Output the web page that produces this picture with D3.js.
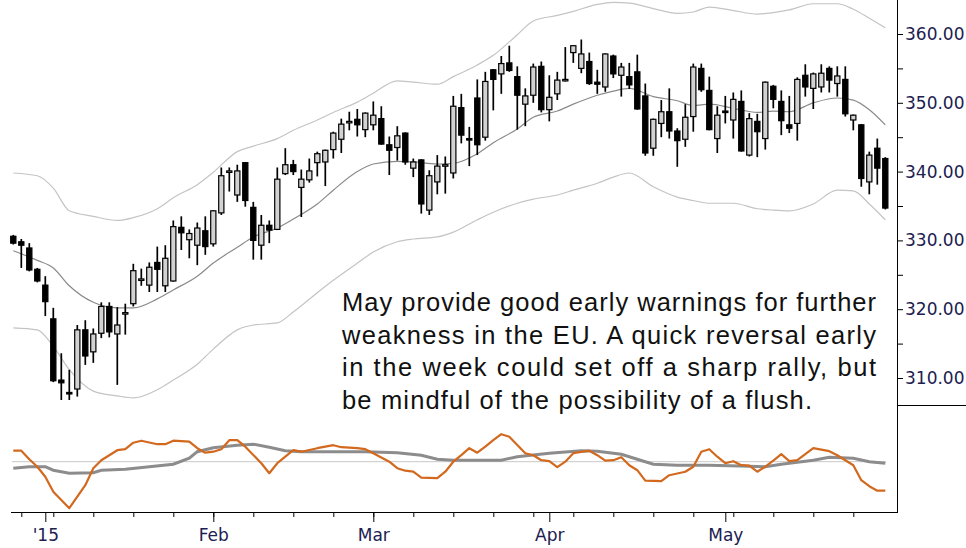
<!DOCTYPE html>
<html>
<head>
<meta charset="utf-8">
<script src="https://cdnjs.cloudflare.com/ajax/libs/d3/7.8.5/d3.min.js"></script>
<style>
  body { margin: 0; background: #fff; }
  svg { display: block; }
  .axis text { font-family: "DejaVu Sans", Verdana, sans-serif; font-size: 17px; fill: #202050; }
  .axis line { stroke: #000; }
  .note { font-family: "Liberation Sans", Arial, sans-serif; font-size: 25.5px; fill: #111; }
</style>
</head>
<body>
<svg id="chart" width="966" height="548"></svg>
<script>
// daily OHLC, one value per trading day (index 0 = last days of Dec '14)
var opens = [330.6,329.8,328.9,325.8,323.5,318.6,309.7,307.9,308.4,317.0,
  313.8,316.5,320.4,316.4,319.3,320.8,324.2,323.5,326.8,323.4,
  324.1,331.9,330.1,329.3,331.4,329.5,334.0,339.9,336.6,341.3,
  334.8,329.3,332.2,331.6,339.7,341.0,337.7,338.8,341.3,341.4,
  343.2,344.7,347.1,347.6,346.1,346.8,347.7,343.9,343.5,345.6,
  340.5,341.7,334.4,338.5,340.9,339.8,349.3,344.8,350.7,345.0,
  354.8,354.2,355.8,353.8,349.8,351.1,355.3,349.0,351.3,353.2,
  357.3,355.0,356.0,353.0,352.3,356.8,354.0,353.8,354.5,351.0,
  343.4,347.0,348.7,345.9,344.7,348.0,355.0,351.8,344.8,348.8,
  347.5,350.2,342.4,347.3,344.8,352.4,350.2,346.8,347.0,354.0,
  352.1,352.3,355.0,352.8,353.4,347.5,346.8,338.5,343.4,341.9];
var highs = [330.8,330.2,329.6,326.0,324.8,320.2,313.6,311.2,317.7,318.4,
  317.2,321.0,321.0,320.3,320.8,326.6,325.9,326.8,329.1,329.3,
  332.9,333.5,331.6,332.6,333.5,334.4,340.6,340.6,341.0,341.4,
  335.6,333.7,332.9,340.6,343.4,341.7,340.3,341.9,342.9,343.2,
  345.8,347.7,348.7,349.1,348.6,350.2,349.5,345.1,346.6,345.7,
  341.9,341.8,340.2,342.4,342.2,351.0,351.3,346.5,353.4,354.5,
  354.9,356.8,358.3,355.3,352.1,355.7,356.0,354.0,354.5,358.1,
  358.4,359.2,357.3,354.8,357.2,357.0,355.8,355.8,357.0,352.8,
  347.7,350.4,352.1,346.3,349.8,355.7,355.7,353.8,349.5,351.0,
  351.5,351.8,348.5,348.4,353.1,352.6,351.8,351.0,353.7,355.6,
  354.4,355.6,355.3,355.3,355.3,348.3,346.9,342.9,344.8,342.1];
var lows = [329.4,326.0,325.5,323.9,319.0,309.4,306.8,306.8,307.3,311.9,
  312.2,315.8,315.9,309.0,316.3,320.4,323.4,322.5,322.5,322.5,
  324.0,328.6,327.4,326.4,327.9,329.1,333.7,337.1,335.6,334.9,
  327.2,327.2,329.6,331.5,339.5,339.5,333.4,338.4,339.3,337.9,
  341.9,342.7,346.0,345.1,345.0,346.0,343.9,339.5,341.6,341.0,
  339.2,333.9,333.7,336.7,336.8,339.0,344.1,340.8,342.4,344.5,
  348.9,351.3,354.5,346.1,346.6,350.0,348.6,347.3,350.4,353.1,
  355.8,354.3,352.6,351.3,351.6,353.6,350.9,352.0,349.0,342.3,
  342.3,345.0,344.8,340.7,343.6,345.8,351.6,346.0,342.7,347.0,
  344.8,342.9,342.2,342.1,343.2,349.2,345.3,345.6,344.5,350.9,
  349.1,351.5,351.5,350.9,348.0,346.0,337.8,336.7,338.1,334.5];
var closes = [329.6,329.3,325.7,324.1,321.1,309.6,309.3,307.7,317.0,313.2,
  316.4,320.4,316.7,317.7,319.5,325.6,324.4,326.1,325.8,327.4,
  332.0,331.1,331.0,331.8,329.1,334.3,339.4,340.1,340.1,335.8,
  330.0,332.2,331.5,338.9,341.0,340.0,338.9,340.1,342.6,343.1,
  345.6,346.9,347.3,346.8,348.5,348.2,344.0,343.1,345.2,341.4,
  341.4,335.3,339.4,340.8,341.0,349.5,345.3,344.6,343.9,353.1,
  353.4,355.7,354.7,351.1,351.0,355.2,349.0,350.8,353.3,353.4,
  358.3,357.1,352.8,352.7,357.1,354.2,355.2,352.6,349.1,342.7,
  347.6,348.7,345.9,344.5,347.9,355.2,351.9,346.1,348.2,348.6,
  350.5,343.0,347.7,345.8,353.0,350.5,347.4,346.3,353.4,352.3,
  354.2,354.3,353.3,353.9,348.4,348.2,339.0,342.4,340.5,334.7];

// moving average and bands, read at these day indices
var bandIdx = [0,3,5,7,10,13,15,18,20,23,25,28,30,33,35,38,40,43,45,48,50,53,55,58,60,
  63,65,68,70,73,75,77,80,83,85,87,90,93,95,97,100,103,105,107,109];
var upperBand = [339.8,339.4,337.6,334.3,333.5,332.9,333.3,334.6,336.2,338.1,339.9,342.9,343.7,
  344.8,346.0,347.5,348.6,350.1,351.4,353.2,353.0,352.7,353.8,355.5,356.9,359.9,361.9,362.7,
  363.3,364.3,364.6,364.5,363.7,363.0,363.2,363.9,363.4,362.9,363.1,363.5,364.4,364.4,363.6,
  362.3,360.9];
var midBand = [328.5,327.1,326.0,323.4,321.0,320.2,320.2,321.5,322.8,324.8,326.7,329.0,330.5,
  331.8,333.1,335.3,337.3,340.0,341.1,341.5,341.4,341.1,341.2,342.6,344.2,346.2,347.9,348.8,
  349.8,351.1,351.7,352.1,350.9,350.3,349.6,349.8,349.2,348.6,348.8,348.7,350.0,350.7,350.4,
  349.0,346.8];
var lowerBand = [317.3,317.0,314.6,311.2,308.1,307.4,307.1,308.3,309.7,312.0,314.2,317.0,317.7,
  318.0,319.6,322.4,324.2,326.7,328.3,329.8,330.2,330.5,331.2,333.0,334.1,335.4,336.0,336.6,
  337.3,338.3,339.2,339.8,337.8,336.3,335.8,335.4,335.4,334.6,334.4,334.3,335.3,337.3,337.2,
  335.3,333.0];

// lower panel oscillator (orange) and its signal (gray)
var oscIdx = [0,1,2,3,4,5,7,8,9,10,11,13,14,15,16,18,19,20,22,23,24,25,26,27,28,29,31,32,33,
  35,36,38,40,41,43,44,45,47,48,49,50,51,53,54,55,56,57,58,59,60,61,62,64,65,66,67,68,69,70,
  72,73,74,75,76,77,78,79,81,82,84,85,86,87,88,89,90,91,92,93,94,95,96,97,98,100,102,103,104,
  105,106,107,108,109];
var oscVals = [2.2,2.2,0.5,-1.0,-3.0,-6.0,-9.3,-7.0,-4.7,-1.3,0.3,2.3,2.5,3.8,4.2,3.5,3.5,4.2,
  4.0,2.7,1.8,2.0,2.5,4.3,4.3,3.0,-0.3,-2.3,-0.3,2.3,2.0,2.7,3.3,2.9,2.7,2.5,1.7,0,-1.3,-1.8,
  -2.0,-3.2,-3.3,-2.0,0,1.3,2.7,1.8,3.0,4.3,5.5,5.0,1.7,1.3,0.3,0.1,-1.1,0,1.7,2.2,1.3,0.2,
  0.3,0.9,-0.7,-1.7,-3.8,-3.9,-2.7,-2.0,-1.0,2.0,2.5,1.0,-0.3,0.1,-0.7,-0.8,-2.0,-1.0,0.2,
  1.5,0.1,0.3,2.7,2.1,1.3,0.3,-0.7,-3.7,-4.9,-5.8,-5.8];
var sigIdx = [0,2,4,5,7,10,11,14,17,20,22,23,25,28,30,32,34,36,40,44,48,51,53,55,61,63,67,71,
  73,76,78,80,83,87,92,94,96,100,102,105,107,109];
var sigVals = [-1.3,-1.0,-1.0,-1.7,-2.3,-2.2,-1.7,-1.5,-1.0,-0.5,0.7,2.0,2.8,3.3,3.5,2.9,2.2,
  2.0,2.0,2.0,1.8,1.3,0.5,0.3,0.3,1.0,1.7,2.2,2.1,1.5,0.5,-0.5,-0.7,-0.7,-0.9,-1.0,-0.5,0.3,
  0.9,0.7,0,-0.3];

var weekTicks = [1,5,10,15,20,25,30,35,40,45,50,55,60,65,70,75,80,85,90,95,100,105];
var monthTicks = [4,25,45,67,89];
var monthLabels = ["'15","Feb","Mar","Apr","May"];
var priceTicks = [310,315,320,325,330,335,340,345,350,355,360];

var noteLines = [
  "May provide good early warnings for further",
  "weakness in the EU. A quick reversal early",
  "in the week could set off a sharp rally, but",
  "be mindful of the possibility of a flush."
];

var svg = d3.select("#chart");

var x = d3.scaleLinear().domain([0, 109]).range([13.3, 885.3]);
var y = d3.scaleLinear().domain([310, 360]).range([378, 34]);
var yOsc = d3.scaleLinear().domain([-10, 6]).range([511.7, 431.7]);

function pairs(idx, vals) {
  return idx.map(function(d, i) { return [d, vals[i]]; });
}

var priceLine = d3.line()
  .x(function(d) { return x(d[0]) })
  .y(function(d) { return y(d[1]) })
  .curve(d3.curveMonotoneX);

var oscLine = d3.line()
  .x(function(d) { return x(d[0]) })
  .y(function(d) { return yOsc(d[1]) });

// bands under the candles
svg.append("path")
  .attr("fill", "none").attr("stroke", "#c4c4c4").attr("stroke-width", 1.2)
  .attr("d", priceLine(pairs(bandIdx, upperBand)));
svg.append("path")
  .attr("fill", "none").attr("stroke", "#c4c4c4").attr("stroke-width", 1.2)
  .attr("d", priceLine(pairs(bandIdx, lowerBand)));
svg.append("path")
  .attr("fill", "none").attr("stroke", "#8a8a8a").attr("stroke-width", 1.2)
  .attr("d", priceLine(pairs(bandIdx, midBand)));

var candles = opens.map(function(o, i) {
  return {i: i, o: o, h: highs[i], l: lows[i], c: closes[i]};
});

var cg = svg.append("g");
cg.selectAll(".wick")
  .data(candles)
  .enter().append("line")
    .attr("class", "wick")
    .attr("x1", function(d) { return x(d.i) })
    .attr("x2", function(d) { return x(d.i) })
    .attr("y1", function(d) { return y(d.h) })
    .attr("y2", function(d) { return y(d.l) })
    .attr("stroke", "#000")
    .attr("stroke-width", 1.7);
cg.selectAll(".body")
  .data(candles)
  .enter().append("rect")
    .attr("class", "body")
    .attr("x", function(d) { return x(d.i) - 2.6 })
    .attr("width", 5.2)
    .attr("y", function(d) { return y(Math.max(d.o, d.c)) })
    .attr("height", function(d) { return Math.max(1.5, y(Math.min(d.o, d.c)) - y(Math.max(d.o, d.c))) })
    .attr("fill", function(d) { return d.c >= d.o ? "#d2d2d2" : "#000" })
    .attr("stroke", "#000")
    .attr("stroke-width", 1.2);

// note text, justified like the original
var noteTop = 311, noteGap = 32.5;
svg.selectAll(".note")
  .data(noteLines)
  .enter().append("text")
    .attr("class", "note")
    .attr("x", 342)
    .attr("y", function(d, i) { return noteTop + i * noteGap })
    .attr("textLength", function(d, i) { return i < 3 ? 534 : 470 })
    .attr("lengthAdjust", "spacing")
    .text(function(d) { return d });

// lower panel
svg.append("line")
  .attr("x1", 12).attr("x2", 886).attr("y1", yOsc(0)).attr("y2", yOsc(0))
  .attr("stroke", "#c8c8c8").attr("stroke-width", 1);
svg.append("path")
  .attr("fill", "none").attr("stroke", "#8c8c8c").attr("stroke-width", 3)
  .attr("d", oscLine(pairs(sigIdx, sigVals)));
svg.append("path")
  .attr("fill", "none").attr("stroke", "#d2691e").attr("stroke-width", 2.2)
  .attr("stroke-linejoin", "round")
  .attr("d", oscLine(pairs(oscIdx, oscVals)));

// price axis on the right
svg.append("g")
    .attr("class", "axis")
    .attr("transform", "translate(897,0)")
    .call(d3.axisRight(y)
      .tickValues(priceTicks)
      .tickSize(6)
      .tickPadding(2)
      .tickFormat(function(d) { return d % 10 === 0 ? d3.format(".2f")(d) : "" }))
  .select(".domain").remove();

// time axis
svg.append("g")
    .attr("class", "axis")
    .attr("transform", "translate(0,512)")
    .call(d3.axisBottom(x).tickValues(weekTicks).tickSize(5).tickFormat(""))
  .select(".domain").remove();
svg.append("g")
    .attr("class", "axis")
    .attr("transform", "translate(0,512)")
    .call(d3.axisBottom(x)
      .tickValues(monthTicks)
      .tickSize(10)
      .tickPadding(7)
      .tickFormat(function(d, i) { return monthLabels[i] }))
  .select(".domain").remove();

svg.append("line")
  .attr("x1", 11).attr("x2", 897).attr("y1", 512.5).attr("y2", 512.5)
  .attr("stroke", "#000");
svg.append("line")
  .attr("x1", 897.5).attr("x2", 897.5).attr("y1", 0).attr("y2", 513)
  .attr("stroke", "#000");
svg.append("line")
  .attr("x1", 897).attr("x2", 966).attr("y1", 405.5).attr("y2", 405.5)
  .attr("stroke", "#000");
</script>
</body>
</html>
